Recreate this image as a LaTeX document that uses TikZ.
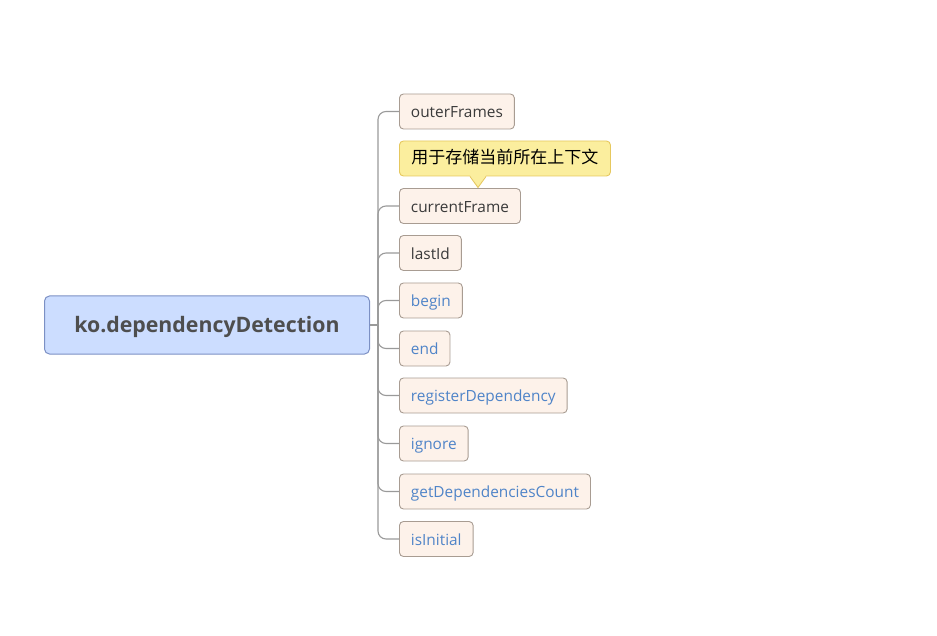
\documentclass[tikz,border=0pt]{standalone}
\usepackage{fontspec}
\setmainfont{Open Sans}
\newfontfamily\cjk{Noto Sans CJK SC}
\definecolor{rootfill}{HTML}{CCDDFF}
\definecolor{rootdraw}{HTML}{7C90C4}
\definecolor{kidfill}{HTML}{FDF2EA}
\definecolor{kiddraw}{HTML}{A89C92}
\definecolor{darktext}{HTML}{3A3A3A}
\definecolor{bluetext}{HTML}{4F84C8}
\definecolor{notefill}{HTML}{FBEE9E}
\definecolor{notedraw}{HTML}{E6C85E}
\definecolor{conn}{HTML}{9A9A9A}
\begin{document}
\begin{tikzpicture}[x=1pt,y=-1pt,
  rootbox/.style={draw=rootdraw,fill=rootfill,rounded corners=5pt,line width=1pt,
    minimum width=325pt,minimum height=58pt,inner sep=0pt,anchor=west,
    text height=17pt,text depth=2pt,
    font=\fontsize{21.3}{26}\selectfont\bfseries,text=darktext!90},
  kid/.style={draw=kiddraw,fill=kidfill,rounded corners=4pt,line width=0.9pt,
    minimum height=35pt,inner xsep=11.5pt,inner ysep=0pt,anchor=west,
    text height=14pt,text depth=1.5pt,font=\fontsize{15.4}{18}\selectfont},
  dk/.style={kid,text=darktext},
  bl/.style={kid,text=bluetext},
  link/.style={draw=conn,line width=1.1pt,rounded corners=8pt}]
\useasboundingbox (0,0) rectangle (937,636);
\node[rootbox] (root) at (44,325) {ko.dependencyDetection};
\coordinate (hub) at (378,325);
\node[dk] (c1) at (399,111.5) {outerFrames};
\node[dk] (c2) at (399,206) {currentFrame};
\node[dk] (c3) at (399,253) {lastId};
\node[bl] (c4) at (399,300.5) {begin};
\node[bl] (c5) at (399,348.5) {end};
\node[bl] (c6) at (399,395.5) {registerDependency};
\node[bl] (c7) at (399,443.5) {ignore};
\node[bl] (c8) at (399,491.5) {getDependenciesCount};
\node[bl] (c9) at (399,539) {isInitial};
\draw[link] (root.east) -- (hub);
\foreach \c in {c1,c2,c3,c4,c5,c6,c7,c8,c9}
  \draw[link] (hub) |- (\c.west);
% note callout
\node[draw=notedraw,fill=notefill,rounded corners=4pt,line width=0.9pt,
  anchor=west,minimum height=35pt,inner xsep=12pt,inner ysep=0pt,
  text height=13pt,text depth=3pt,font=\fontsize{17}{20}\selectfont\cjk,text=black] (note) at (399,158.5) {用于存储当前所在上下文};
\coordinate (tip) at (478,187.5);
\fill[notefill] ([xshift=-8pt,yshift=1.2pt]note.south -| tip) -- (tip) -- ([xshift=8pt,yshift=1.2pt]note.south -| tip) -- cycle;
\draw[notedraw,line width=0.9pt,line join=round] ([xshift=-8pt]note.south -| tip) -- (tip) -- ([xshift=8pt]note.south -| tip);
\end{tikzpicture}
\end{document}
